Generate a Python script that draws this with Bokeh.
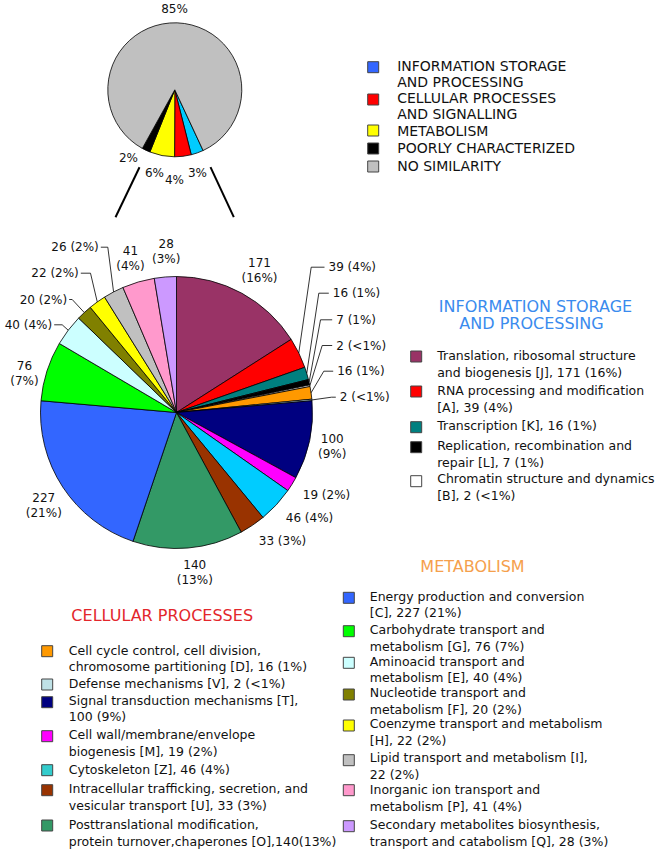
import numpy as np
from bokeh.plotting import figure
from bokeh.models import Range1d, ColumnDataSource
from bokeh.embed import file_html
from bokeh.resources import INLINE
from bokeh.core.properties import value

# ---------------- data ----------------
overview_groups = ["INFORMATION STORAGE AND PROCESSING", "CELLULAR PROCESSES AND SIGNALLING",
                   "METABOLISM", "POORLY CHARACTERIZED", "NO SIMILARITY"]
overview_pct = [3, 4, 6, 2, 85]
overview_legend_lines = [["INFORMATION STORAGE", "AND PROCESSING"],
                         ["CELLULAR PROCESSES", "AND SIGNALLING"],
                         ["METABOLISM"], ["POORLY CHARACTERIZED"], ["NO SIMILARITY"]]

cog_codes = ["J", "A", "K", "L", "B", "D", "V", "T", "M", "Z", "U", "O",
             "C", "G", "E", "F", "H", "I", "P", "Q"]
cog_counts = [171, 39, 16, 7, 2, 16, 2, 100, 19, 46, 33, 140,
              227, 76, 40, 20, 22, 26, 41, 28]
cog_pct = ["16%", "4%", "1%", "1%", "<1%", "1%", "<1%", "9%", "2%", "4%", "3%", "13%",
           "21%", "7%", "4%", "2%", "2%", "2%", "4%", "3%"]

info_title = ["INFORMATION STORAGE", "AND PROCESSING"]
info_codes = ["J", "A", "K", "L", "B"]
info_lines = [["Translation, ribosomal structure", "and biogenesis  [J], 171 (16%)"],
              ["RNA processing and modification", "[A], 39 (4%)"],
              ["Transcription [K], 16 (1%)"],
              ["Replication, recombination and", "repair [L], 7 (1%)"],
              ["Chromatin structure and dynamics", "[B], 2 (<1%)"]]

cell_title = "CELLULAR PROCESSES"
cell_codes = ["D", "V", "T", "M", "Z", "U", "O"]
cell_lines = [["Cell cycle control, cell division,", "chromosome partitioning  [D], 16 (1%)"],
              ["Defense mechanisms [V], 2 (<1%)"],
              ["Signal transduction  mechanisms [T],", "100 (9%)"],
              ["Cell wall/membrane/envelope", "biogenesis  [M], 19 (2%)"],
              ["Cytoskeleton [Z], 46 (4%)"],
              ["Intracellular  trafficking, secretion,  and", "vesicular transport  [U], 33 (3%)"],
              ["Posttranslational  modification,", "protein turnover,chaperones  [O],140(13%)"]]

metab_title = "METABOLISM"
metab_codes = ["C", "G", "E", "F", "H", "I", "P", "Q"]
metab_lines = [["Energy production and conversion", "[C], 227 (21%)"],
               ["Carbohydrate transport and", "metabolism [G], 76 (7%)"],
               ["Aminoacid transport and", "metabolism [E], 40 (4%)"],
               ["Nucleotide transport and", "metabolism [F], 20 (2%)"],
               ["Coenzyme transport and metabolism", "[H], 22 (2%)"],
               ["Lipid transport and metabolism [I],", "22 (2%)"],
               ["Inorganic ion transport and", "metabolism [P], 41 (4%)"],
               ["Secondary metabolites biosynthesis,", "transport and catabolism  [Q], 28 (3%)"]]

# ---------------- styles ----------------
overview_slice_colors = ["#00CCFF", "#FF0000", "#FFFF00", "#000000", "#C0C0C0"]
overview_legend_colors = ["#3366FF", "#FF0000", "#FFFF00", "#000000", "#C0C0C0"]
slice_colors = {"J": "#993366", "A": "#FF0000", "K": "#008080", "L": "#000000", "B": "#FFFFFF",
                "D": "#FF9900", "V": "#BFE1E6", "T": "#000080", "M": "#FF00FF", "Z": "#00CCFF",
                "U": "#993300", "O": "#339966", "C": "#3366FF", "G": "#00FF00", "E": "#CCFFFF",
                "F": "#808000", "H": "#FFFF00", "I": "#C0C0C0", "P": "#FF99CC", "Q": "#CC99FF"}
legend_colors = dict(slice_colors, Z="#33CCCC")
FONT = value("DejaVu Sans")
TXT = "#111111"


def Y(img_y):
    # picture-pixel y (downwards) -> data y (upwards)
    return 851 - np.asarray(img_y, dtype=float)


p = figure(width=660, height=850, x_range=Range1d(0, 660), y_range=Range1d(1, 851),
           output_backend="svg", toolbar_location=None, x_axis_type=None, y_axis_type=None,
           min_border=0)
p.outline_line_color = None
p.background_fill_color = "white"
p.border_fill_color = "white"


def wedges(cx, cy, r, values, colors, start_phi):
    vals = np.asarray(values, dtype=float)
    cum = np.cumsum(vals)
    phi_end = start_phi + 360.0 * cum / vals.sum()
    phi_start = phi_end - 360.0 * vals / vals.sum()
    src = ColumnDataSource(dict(
        start=np.deg2rad(90.0 - phi_end), end=np.deg2rad(90.0 - phi_start), color=colors))
    p.wedge(x=cx, y=float(Y(cy)), radius=r, start_angle="start", end_angle="end",
            fill_color="color", line_color="black", line_width=0.8, source=src)
    return phi_start, phi_end


def texts(xs, ys, labels, size="12px", align="left", color=TXT):
    p.text(x=list(xs), y=list(Y(ys)), text=list(labels), text_font=FONT, text_font_size=size,
           text_align=align, text_baseline="middle", text_color=color)


# ---------------- overview pie ----------------
wedges(174.3, 89.3, 67, overview_pct, overview_slice_colors, 155.0)
ov_label_pos = [(197, 172), (174, 179), (154, 172), (128, 157), (174, 8.5)]
texts([q[0] for q in ov_label_pos], [q[1] for q in ov_label_pos],
      [f"{v}%" for v in overview_pct], align="center")

# connectors between the two pies
p.segment(x0=[139, 210], y0=list(Y([166.7, 166.7])), x1=[115, 233.3], y1=list(Y([216.7, 216.7])),
          line_color="black", line_width=2)

# overview legend
ov_sq_y = [66.7, 99, 130, 148, 166]
ov_txt_y = [65, 97, 130, 147.5, 165]
p.rect(x=[372.7] * 5, y=list(Y(ov_sq_y)), width=11, height=11,
       fill_color=overview_legend_colors, line_color="#444444", line_width=1)
lx, ly, lt = [], [], []
for lines, y0 in zip(overview_legend_lines, ov_txt_y):
    for k, t in enumerate(lines):
        lx.append(396.7); ly.append(y0 + 16.5 * k); lt.append(t)
texts(lx, ly, lt, size="14px")

# ---------------- detailed pie ----------------
CX, CY, R = 176.0, 412.0, 136.0
ph0, ph1 = wedges(CX, CY, R, cog_counts, [slice_colors[c] for c in cog_codes], 0.0)
mid = np.deg2rad((ph0 + ph1) / 2.0)
edge_x = CX + R * np.sin(mid)
edge_y = CY - R * np.cos(mid)
idx = {c: i for i, c in enumerate(cog_codes)}

# two-line labels (count / percent)
two_line_pos = {"J": (259, 262), "T": (331.7, 438.3), "O": (194.3, 564), "C": (43.3, 496.7),
                "G": (24, 365), "P": (130, 250), "Q": (165.7, 242.7)}
lx, ly, lt = [], [], []
for c, (x0, y0) in two_line_pos.items():
    i = idx[c]
    lx += [x0, x0]; ly += [y0, y0 + 15.5]; lt += [str(cog_counts[i]), f"({cog_pct[i]})"]
texts(lx, ly, lt, align="center")

# single-line centred labels
one_line_pos = {"M": (326, 494), "Z": (309, 517.3), "U": (282, 540)}
texts([v[0] for v in one_line_pos.values()], [v[1] for v in one_line_pos.values()],
      [f"{cog_counts[idx[c]]} ({cog_pct[idx[c]]})" for c in one_line_pos], align="center")

# right-hand leader labels: (elbow x, label y, label x)
right_leaders = {"A": (310.7, 266.7, 328), "K": (318.3, 292.7, 332.3), "L": (320, 319.3, 335.7),
                 "B": (321.7, 345, 335.7), "D": (323.3, 370.7, 336.7), "V": (331, 396.7, 339.3)}
xs, ys = [], []
for c, (ex, ey, tx) in right_leaders.items():
    i = idx[c]
    xs.append([edge_x[i], ex, tx - 4]); ys.append(list(Y([edge_y[i], ey, ey])))
texts([v[2] for v in right_leaders.values()], [v[1] for v in right_leaders.values()],
      [f"{cog_counts[idx[c]]} ({cog_pct[idx[c]]})" for c in right_leaders])

# left-hand leader labels: (elbow x, label y, label right x)
left_leaders = {"E": (61.7, 324.3, 51.7), "F": (71.7, 299, 66.7), "H": (90, 272.7, 78.3),
                "I": (107.3, 246.7, 98.3)}
for c, (ex, ey, tx) in left_leaders.items():
    i = idx[c]
    xs.append([edge_x[i], ex, tx + 2]); ys.append(list(Y([edge_y[i], ey, ey])))
texts([v[2] for v in left_leaders.values()], [v[1] for v in left_leaders.values()],
      [f"{cog_counts[idx[c]]} ({cog_pct[idx[c]]})" for c in left_leaders], align="right")
p.multi_line(xs=xs, ys=ys, line_color="black", line_width=0.8)


# ---------------- category legends ----------------
def legend_block(codes, lines, sq_x, tx_x, sq_y, txt_y):
    p.rect(x=[sq_x] * len(codes), y=list(Y(sq_y)), width=11, height=11,
           fill_color=[legend_colors[c] for c in codes], line_color="#444444", line_width=1)
    bx, by, bt = [], [], []
    for ls, y0 in zip(lines, txt_y):
        for k, t in enumerate(ls):
            bx.append(tx_x); by.append(y0 + 16.6 * k); bt.append(t)
    texts(bx, by, bt, size="12.5px")


texts([535, 531], [306, 322.7], info_title, size="16px", align="center", color="#3A8BEE")
legend_block(info_codes, info_lines, 415.7, 436.7,
             [356, 391, 426.7, 446.7, 480.7], [355, 390, 425, 445, 478.3])

SH = 1
texts([161.7], [616 - SH], [cell_title], size="16px", align="center", color="#E3262B")
legend_block(cell_codes, cell_lines, 46.7, 68.3,
             [v - SH for v in [651.7, 685, 702.7, 736.7, 770.7, 790.7, 826]],
             [v - SH for v in [650.7, 684, 700.7, 735, 770, 789.3, 825]])

texts([472], [566.7 - SH], [metab_title], size="16px", align="center", color="#F5A04C")
legend_block(metab_codes, metab_lines, 348.3, 369.3,
             [v - SH for v in [598.3, 631.7, 663.3, 695, 726, 760.7, 790.7, 826.7]],
             [v - SH for v in [596.7, 630, 661.7, 693.3, 724.3, 758.3, 790, 825]])

open("out.html", "w").write(file_html(p, INLINE))
